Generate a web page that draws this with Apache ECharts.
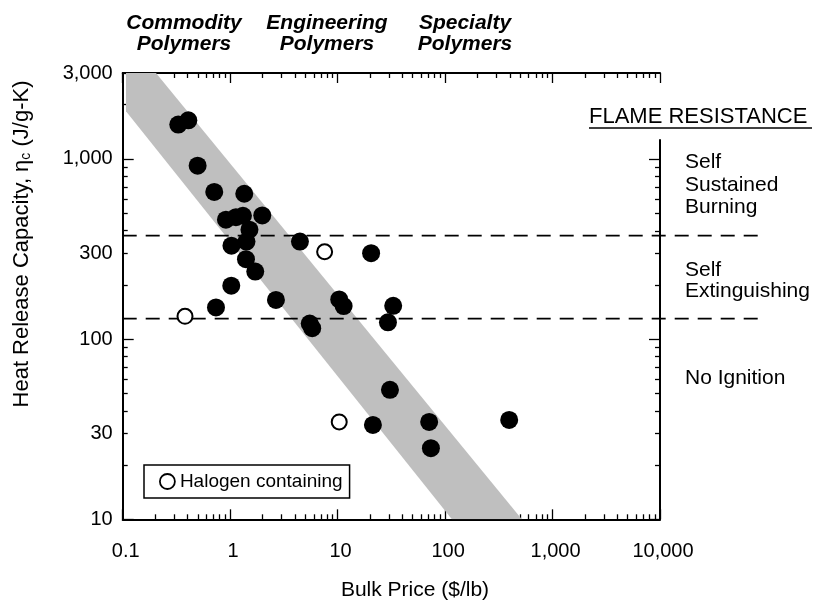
<!DOCTYPE html>
<html><head><meta charset="utf-8">
<script src="https://cdn.jsdelivr.net/npm/echarts@6/dist/echarts.min.js"></script>
<style>html,body{margin:0;padding:0;background:#fff}#c{width:817px;height:600px}</style>
</head><body><div id="c"></div>
<script>
const FONT = "'Liberation Sans', Arial, Helvetica, sans-serif";

// ---- data ----
const filledPrice = [0.329, 0.408, 0.498, 0.711, 1.353, 0.914, 1.132, 1.315, 1.989, 1.512, 1.418, 1.028, 4.46, 20.5, 1.403, 1.712, 1.024, 0.738, 2.667, 5.5, 5.8, 10.35, 11.37, 32.9, 29.4, 30.7, 21.3, 71.1, 73.8, 395];
const filledHRC   = [1551, 1638, 918, 656, 641, 460, 475, 484, 486, 405, 348, 330, 348, 300, 278, 237, 198, 150, 165, 122, 115, 166, 152.5, 153, 124, 52.3, 33.4, 34.7, 24.8, 35.6];
const halogenPrice = [0.380, 7.57, 10.35];
const halogenHRC   = [133.8, 305.5, 34.7];
const bandPrice = [0.1073, 0.204, 518, 115.7, 0.1073];
const bandHRC   = [3000, 3000, 10, 10, 1838];
const thresholds = [375, 130];
const xMajorTicks = [0.1, 1, 10, 100, 1000, 10000];
const xMinorTicks = [0.2,0.3,0.4,0.5,0.6,0.7,0.8,0.9, 2,3,4,5,6,7,8,9, 20,30,40,50,60,70,80,90, 200,300,400,500,600,700,800,900, 2000,3000,4000,5000,6000,7000,8000,9000];
const yLabelValues = [10, 30, 100, 300, 1000, 3000];
const yMajorTicks = [10, 100, 1000];
const yMinorTicks = [20,30,40,50,60,70,80,90, 200,300,400,500,600,700,800,900, 2000,3000];
const groupLabels = ['Commodity\nPolymers', 'Engineering\nPolymers', 'Specialty\nPolymers'];
const zoneTitle = 'FLAME RESISTANCE';
const zoneLabels = ['Self\nSustained\nBurning', 'Self\nExtinguishing', 'No Ignition'];
const legendName = 'Halogen containing';

function fmt(v) {
  const r = Math.round(v * 1000) / 1000;
  return String(r).replace(/\B(?=(\d{3})+(?!\d))/g, ',');
}
const lineSt = {color: '#000', width: 2};
const tickSt = {color: '#000', width: 1.3};

function xAx(pos, ticks, len, showLine, labels) {
  return {
    type: 'log', logBase: 10, min: 0.1, max: 10000, gridIndex: 0, position: pos, offset: 0,
    axisLine: {show: showLine, onZero: false, lineStyle: lineSt},
    axisTick: {show: true, inside: true, length: len, customValues: ticks, lineStyle: tickSt},
    axisLabel: labels ? {show: true, customValues: xMajorTicks, margin: 22, fontSize: 20, fontFamily: FONT, color: '#000', formatter: fmt, padding: [0, 0, 0, 6]} : {show: false},
    splitLine: {show: false}, minorTick: {show: false}
  };
}
function yAx(grid, pos, min, max, ticks, len, showLine, labels) {
  return {
    type: 'log', logBase: 10, min: min, max: max, gridIndex: grid, position: pos, offset: 0,
    axisLine: {show: showLine, onZero: false, lineStyle: lineSt},
    axisTick: {show: true, inside: true, length: len, customValues: ticks, lineStyle: tickSt},
    axisLabel: labels ? {show: true, customValues: yLabelValues, margin: 10, fontSize: 20, fontFamily: FONT, color: '#000', formatter: fmt} : {show: false},
    splitLine: {show: false}, minorTick: {show: false}
  };
}

const chart = echarts.init(document.getElementById('c'), null, {renderer: 'canvas'});
chart.setOption({
  animation: false,
  backgroundColor: '#fff',
  grid: [
    {left: 122.7, right: 157, top: 73, bottom: 80.7},
    {left: 122.7, right: 157, top: 140, bottom: 80.7}
  ],
  xAxis: [
    xAx('bottom', xMajorTicks, 10, true, true),
    xAx('bottom', xMinorTicks, 5, false, false),
    xAx('top', xMajorTicks, 10, true, false),
    xAx('top', xMinorTicks, 5, false, false),
    {type: 'value', gridIndex: 1, show: false}
  ],
  yAxis: [
    yAx(0, 'left', 10, 3000, yMajorTicks, 11, true, true),
    yAx(0, 'left', 10, 3000, yMinorTicks, 5, false, false),
    yAx(1, 'right', 10, 1280, yMajorTicks, 11, true, false),
    yAx(1, 'right', 10, 1280, yMinorTicks, 5, false, false)
  ],
  legend: {
    data: [legendName], left: 144, top: 465, orient: 'horizontal',
    borderColor: '#000', borderWidth: 1.5, padding: [7, 7, 7, 15],
    itemWidth: 15, itemHeight: 15, icon: 'circle', selectedMode: false,
    itemStyle: {color: '#fff', borderColor: '#000', borderWidth: 1.8},
    textStyle: {fontSize: 19, fontFamily: FONT, color: '#000'}
  },
  series: [
    {
      type: 'custom', name: 'band', xAxisIndex: 0, yAxisIndex: 0, silent: true, clip: true, z: 1,
      data: bandPrice.map((x, i) => [x, bandHRC[i]]),
      renderItem: function (params, api) {
        if (params.dataIndex !== 0) return null;
        const pts = bandPrice.map((x, i) => api.coord([x, bandHRC[i]]));
        return {type: 'polygon', shape: {points: pts}, style: {fill: '#bfbfbf', stroke: null}};
      }
    },
    {
      type: 'custom', name: 'thresholds', xAxisIndex: 0, yAxisIndex: 0, silent: true, clip: false, z: 2,
      data: thresholds.map(v => [0.1, v]),
      renderItem: function (params, api) {
        const p = api.coord([0.1, api.value(1)]);
        const cs = params.coordSys;
        return {type: 'line', shape: {x1: cs.x, y1: p[1], x2: cs.x + cs.width + 103, y2: p[1]},
          style: {stroke: '#000', lineWidth: 1.8, lineDash: [14, 9]}};
      }
    },
    {
      type: 'scatter', name: 'Polymers', xAxisIndex: 0, yAxisIndex: 0, z: 3,
      symbol: 'circle', symbolSize: 18,
      itemStyle: {color: '#000', opacity: 1},
      data: filledPrice.map((x, i) => [x, filledHRC[i]])
    },
    {
      type: 'scatter', name: legendName, xAxisIndex: 0, yAxisIndex: 0, z: 4,
      symbol: 'circle', symbolSize: 15,
      itemStyle: {color: '#fff', borderColor: '#000', borderWidth: 2, opacity: 1},
      data: halogenPrice.map((x, i) => [x, halogenHRC[i]])
    }
  ],
  graphic: [
    {type: 'text', x: 184, y: 12, style: {text: groupLabels[0], fill: '#000', fontSize: 21, fontWeight: 'bold', fontStyle: 'italic', fontFamily: FONT, align: 'center', verticalAlign: 'top', lineHeight: 21.5}},
    {type: 'text', x: 327, y: 12, style: {text: groupLabels[1], fill: '#000', fontSize: 21, fontWeight: 'bold', fontStyle: 'italic', fontFamily: FONT, align: 'center', verticalAlign: 'top', lineHeight: 21.5}},
    {type: 'text', x: 465, y: 12, style: {text: groupLabels[2], fill: '#000', fontSize: 21, fontWeight: 'bold', fontStyle: 'italic', fontFamily: FONT, align: 'center', verticalAlign: 'top', lineHeight: 21.5}},
    {type: 'text', x: 589, y: 117, style: {text: zoneTitle, fill: '#000', fontSize: 22, fontFamily: FONT, align: 'left', verticalAlign: 'middle'}},
    {type: 'line', shape: {x1: 589, y1: 128, x2: 812, y2: 128}, style: {stroke: '#000', lineWidth: 1.5}},
    {type: 'text', x: 685, y: 151, style: {text: zoneLabels[0], fill: '#000', fontSize: 21, fontFamily: FONT, align: 'left', verticalAlign: 'top', lineHeight: 22.5}},
    {type: 'text', x: 685, y: 259, style: {text: zoneLabels[1], fill: '#000', fontSize: 21, fontFamily: FONT, align: 'left', verticalAlign: 'top', lineHeight: 21.7}},
    {type: 'text', x: 685, y: 378, style: {text: zoneLabels[2], fill: '#000', fontSize: 21, fontFamily: FONT, align: 'left', verticalAlign: 'middle'}},
    {type: 'text', x: 415, y: 590, style: {text: 'Bulk Price ($/lb)', fill: '#000', fontSize: 21, fontFamily: FONT, align: 'center', verticalAlign: 'middle'}},
    {type: 'text', x: 22, y: 244, rotation: Math.PI / 2, style: {
      text: 'Heat Release Capacity, η{sub|c} (J/g-K)', fill: '#000', fontSize: 22, fontFamily: FONT,
      align: 'center', verticalAlign: 'middle',
      rich: {sub: {fontSize: 14, fontFamily: FONT, fill: '#000', verticalAlign: 'bottom'}}
    }}
  ]
});
</script>
</body></html>
